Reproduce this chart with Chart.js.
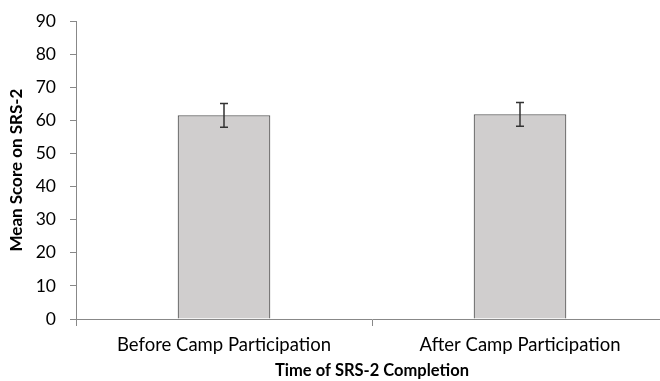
<!DOCTYPE html>
<html>
<head>
<meta charset="utf-8">
<script src="https://cdn.jsdelivr.net/npm/chart.js@4/dist/chart.umd.min.js"></script>
<style>
  html, body { margin: 0; padding: 0; background: #fff; overflow: hidden; }
  #wrap { width: 668px; height: 381px; }
</style>
</head>
<body>
<div id="wrap"><canvas id="srsChart" width="668" height="381"></canvas></div>
<script>
const categories = ["Before Camp Participation", "After Camp Participation"];
const meanScores = [61.5, 61.8];
const errorSizes = [3.6, 3.6];
const yTicks = [0, 10, 20, 30, 40, 50, 60, 70, 80, 90];

// draw the error bars on top of the bars
const errorBarPlugin = {
  id: "errorBars",
  afterDatasetsDraw(chart) {
    const ctx = chart.ctx;
    const meta = chart.getDatasetMeta(0);
    const y = chart.scales.y;
    ctx.save();
    ctx.strokeStyle = "#333";
    ctx.lineWidth = 1.5;
    meta.data.forEach((bar, i) => {
      const top = y.getPixelForValue(meanScores[i] + errorSizes[i]);
      const bottom = y.getPixelForValue(meanScores[i] - errorSizes[i]);
      const cx = bar.x;
      ctx.beginPath();
      ctx.moveTo(cx, top); ctx.lineTo(cx, bottom);
      ctx.moveTo(cx - 4, top); ctx.lineTo(cx + 4, top);
      ctx.moveTo(cx - 4, bottom); ctx.lineTo(cx + 4, bottom);
      ctx.stroke();
    });
    ctx.restore();
  }
};

new Chart(document.getElementById("srsChart"), {
  type: "bar",
  data: {
    labels: categories,
    datasets: [{
      data: meanScores,
      backgroundColor: "#d0cece",
      borderColor: "#595959",
      borderWidth: 1.2,
      categoryPercentage: 1,
      barPercentage: 0.313
    }]
  },
  options: {
    animation: false,
    responsive: false,
    layout: { padding: { top: 21, right: 0, left: 0, bottom: 0 } },
    plugins: { legend: { display: false }, tooltip: { enabled: false } },
    scales: {
      x: {
        grid: { drawOnChartArea: false, tickLength: 7, color: "#888", offset: true },
        border: { color: "#888", width: 1 },
        ticks: { color: "#000", font: { family: "Lato", size: 18.5 }, padding: 8 },
        title: { display: true, text: "Time of SRS-2 Completion", color: "#000",
                 font: { family: "Lato", size: 16.5, weight: "bold" }, padding: { top: 2, bottom: 0 } },
        afterFit(scale) { scale.height = 62; }
      },
      y: {
        min: 0, max: 90,
        afterBuildTicks(scale) { scale.ticks = yTicks.map(v => ({ value: v })); },
        grid: { drawOnChartArea: false, tickLength: 6, color: "#888" },
        border: { color: "#888", width: 1 },
        ticks: { color: "#000", font: { family: "Lato", size: 17.5 }, padding: 14 },
        title: { display: true, text: "Mean Score on SRS-2", color: "#000",
                 font: { family: "Lato", size: 17, weight: "bold" }, padding: { top: 6, bottom: 0 } },
        afterFit(scale) { scale.width = 76; scale.paddingTop = 0; }
      }
    }
  },
  plugins: [errorBarPlugin]
});
</script>
</body>
</html>
